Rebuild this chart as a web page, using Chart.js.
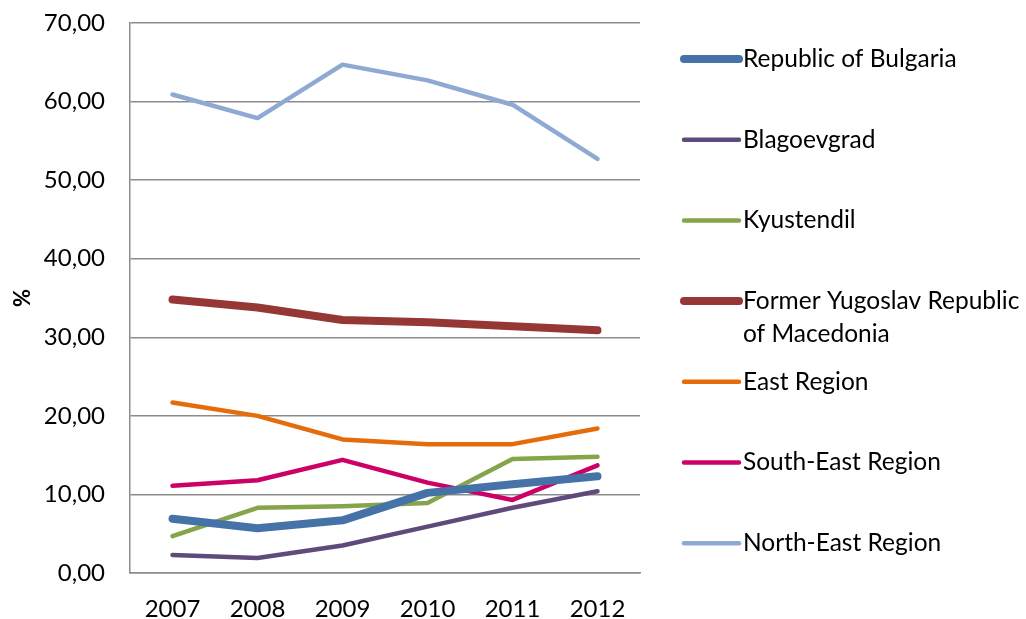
<!DOCTYPE html>
<html>
<head>
<meta charset="utf-8">
<script src="https://cdn.jsdelivr.net/npm/chart.js@4.4.1/dist/chart.umd.min.js"></script>
<style>
  html, body { margin: 0; padding: 0; background: #fff; }
  #wrap { width: 1026px; height: 619px; }
</style>
</head>
<body>
<div id="wrap"><canvas id="myChart" width="1026" height="619"></canvas></div>
<script>
// values
const years = ['2007', '2008', '2009', '2010', '2011', '2012'];
const seriesNames = [
    'Republic of Bulgaria',
    'Blagoevgrad',
    'Kyustendil',
    ['Former Yugoslav Republic', 'of Macedonia'],
    'East Region',
    'South-East Region',
    'North-East Region'
];
const bulgaria    = [6.9, 5.7, 6.7, 10.2, 11.3, 12.3];
const blagoevgrad = [2.3, 1.9, 3.5, 5.9, 8.3, 10.4];
const kyustendil  = [4.7, 8.3, 8.5, 8.9, 14.5, 14.8];
const macedonia   = [34.8, 33.8, 32.2, 31.9, 31.4, 30.9];
const eastRegion  = [21.7, 20.0, 17.0, 16.4, 16.4, 18.4];
const southEast   = [11.1, 11.8, 14.4, 11.5, 9.3, 13.7];
const northEast   = [60.9, 57.9, 64.7, 62.7, 59.6, 52.7];
const yTicks = [0, 10, 20, 30, 40, 50, 60, 70];

const colors = ['#4572a7', '#604a7b', '#86a44a', '#953735', '#e46c0a', '#cc0066', '#8eaad2'];
const widths = [8, 4.5, 4.5, 8, 4.5, 4.5, 4.5];
const values = [bulgaria, blagoevgrad, kyustendil, macedonia, eastRegion, southEast, northEast];

const FONT = 'Lato';

const datasets = values.map(function (v, i) {
    return {
        label: seriesNames[i],
        data: v,
        borderColor: colors[i],
        backgroundColor: colors[i],
        borderWidth: widths[i],
        borderCapStyle: 'round',
        borderJoinStyle: 'round',
        pointRadius: 0,
        pointHoverRadius: 0,
        tension: 0
    };
});

// legend on the right, drawn by hand so a label can wrap on two lines
const sideLegend = {
    id: 'sideLegend',
    afterDraw: function (chart) {
        const ctx = chart.ctx;
        ctx.save();
        ctx.font = '24.5px ' + FONT;
        ctx.textBaseline = 'middle';
        ctx.fillStyle = '#000';
        chart.data.datasets.forEach(function (ds, i) {
            const y = 59 + i * 80.7;
            ctx.strokeStyle = ds.borderColor;
            ctx.lineWidth = ds.borderWidth;
            ctx.lineCap = 'round';
            ctx.beginPath();
            ctx.moveTo(684, y);
            ctx.lineTo(739, y);
            ctx.stroke();
            const lines = Array.isArray(ds.label) ? ds.label : [ds.label];
            lines.forEach(function (t, k) {
                ctx.fillText(t, 743, y + k * 33);
            });
        });
        ctx.restore();
    }
};

const config = {
    type: 'line',
    data: { labels: years, datasets: datasets },
    options: {
        responsive: false,
        animation: false,
        layout: { padding: { top: 23, right: 386, bottom: 0, left: 0 } },
        plugins: {
            legend: { display: false },
            tooltip: { enabled: false }
        },
        scales: {
            x: {
                offset: true,
                afterFit: function (scale) { scale.height = 46; },
                grid: { display: false, drawTicks: false },
                border: { display: true, color: '#8c8c8c', width: 1.5 },
                ticks: { color: '#000', font: { family: FONT, size: 24 }, padding: 22 }
            },
            y: {
                min: 0,
                max: 70,
                afterBuildTicks: function (scale) {
                    scale.ticks = yTicks.map(function (v) { return { value: v }; });
                },
                afterFit: function (scale) {
                    scale.width = 130;
                    scale.paddingTop = 0;
                    scale.paddingBottom = 0;
                },
                grid: { color: '#8c8c8c', lineWidth: 1.5, drawTicks: false },
                border: { display: true, color: '#8c8c8c', width: 1.5 },
                ticks: {
                    color: '#000',
                    font: { family: FONT, size: 24 },
                    padding: 25,
                    callback: function (v) { return v.toFixed(2).replace('.', ','); }
                },
                title: {
                    display: true,
                    text: '%',
                    color: '#000',
                    font: { family: FONT, size: 22, weight: 'bold' },
                    padding: { top: 10, bottom: 0 }
                }
            }
        }
    },
    plugins: [sideLegend]
};

var myChart = new Chart(document.getElementById('myChart'), config);
</script>
</body>
</html>
